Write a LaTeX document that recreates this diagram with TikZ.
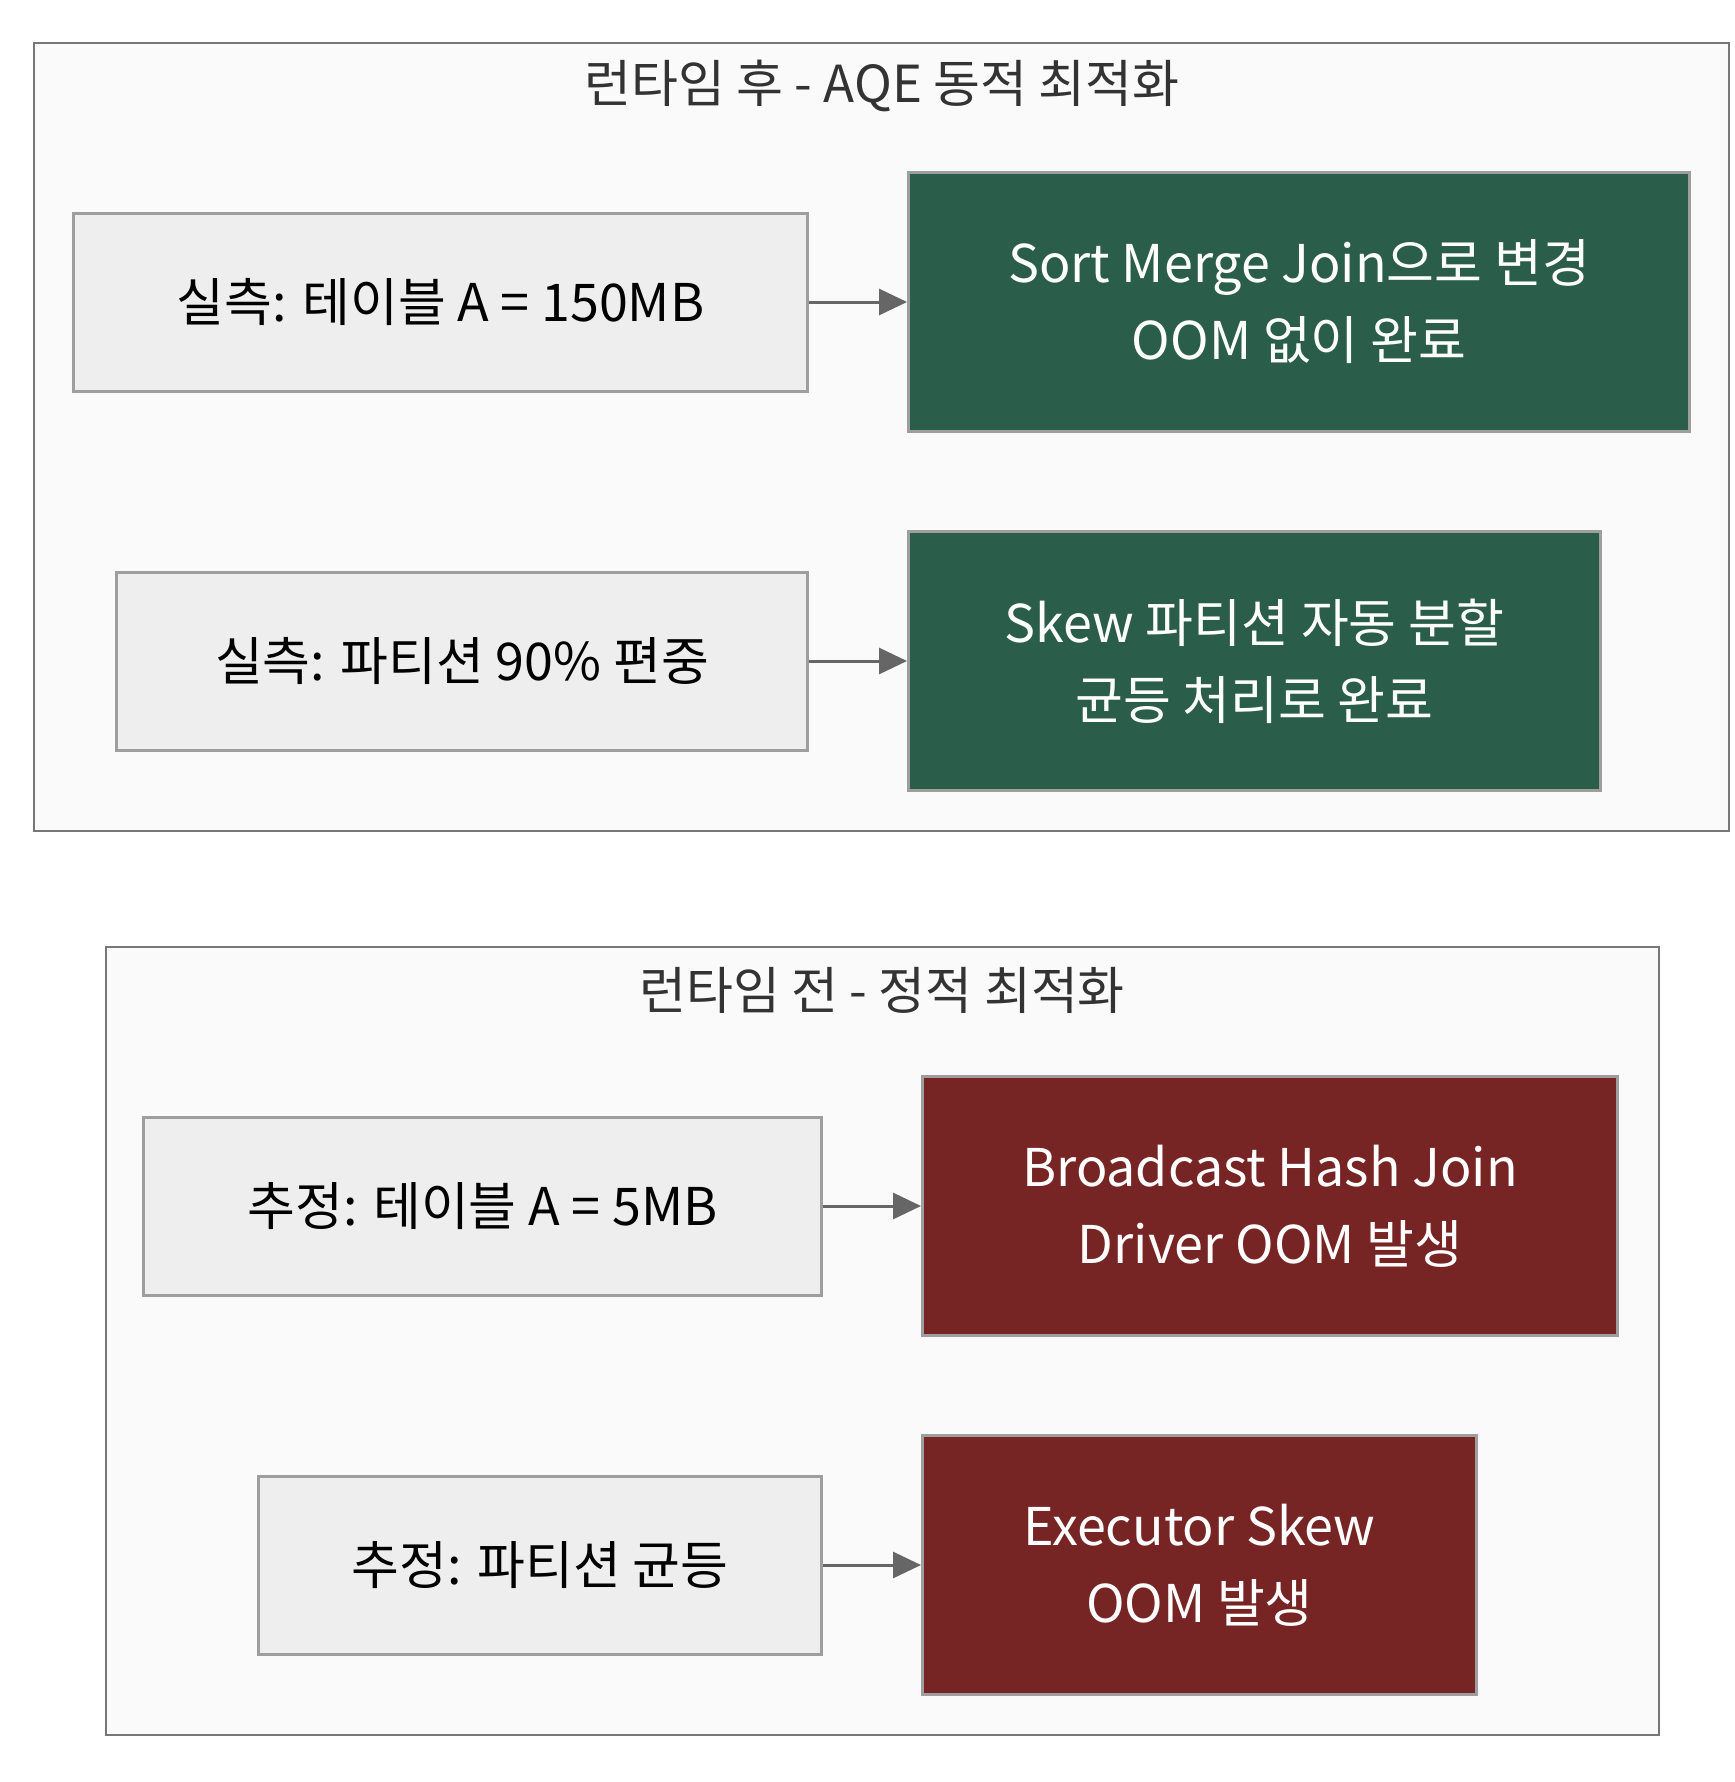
\documentclass[tikz,border=0pt]{standalone}
\usepackage{fontspec}
\setmainfont{Noto Sans CJK KR}
\usetikzlibrary{positioning, arrows.meta}
\definecolor{framegray}{HTML}{777777}
\definecolor{framefill}{HTML}{FAFAFA}
\definecolor{boxline}{HTML}{9E9E9E}
\definecolor{boxfill}{HTML}{EEEEEE}
\definecolor{okgreen}{HTML}{2A5E4A}
\definecolor{failred}{HTML}{772524}
\definecolor{arrgray}{HTML}{666666}
\definecolor{titlegray}{HTML}{333333}
\newcommand{\boxfont}{\fontsize{26}{38.5}\selectfont}
\newcommand{\titlefont}{\fontsize{25.5}{30}\selectfont}

\begin{document}
\begin{tikzpicture}[x=0.5pt, y=-0.5pt,
    frame/.style={draw=framegray, line width=1.25pt, fill=framefill},
    title/.style={font=\titlefont, text=titlegray},
    guess/.style={draw=boxline, line width=1.5pt, fill=boxfill, font=\boxfont,
      minimum height=89pt, inner sep=0pt, anchor=east},
    result/.style={draw=boxline, line width=1.5pt, font=\boxfont, text=white,
      minimum height=129.5pt, inner sep=0pt, align=center},
    ok/.style={result, fill=okgreen},
    fail/.style={result, fill=failred},
    arr/.style={-{Triangle[length=14pt, width=13pt]}, draw=arrgray, fill=arrgray, line width=1.5pt}]
  \useasboundingbox[fill=white] (0,0) rectangle (1734,1782);

  % after runtime (AQE)
  \draw[frame] (34,43) rectangle (1729,831);
  \node[title] (aqetitle) at (882,86) {런타임 후 - AQE 동적 최적화};
  \node[guess, minimum width=367pt] (realsize) at (809,302) {실측: 테이블 A = 150MB};
  \node[ok, minimum width=390.5pt, right=49pt of realsize] (smj) {Sort Merge Join으로 변경\\OOM 없이 완료};
  \node[guess, minimum width=345.5pt] (realskew) at (809,661) {실측: 파티션 90\% 편중};
  \node[ok, minimum width=346pt, right=49pt of realskew] (split) {Skew 파티션 자동 분할\\균등 처리로 완료};

  % before runtime (static)
  \draw[frame] (106,947) rectangle (1659,1735);
  \node[title] (statictitle) at (882,990) {런타임 전 - 정적 최적화};
  \node[guess, minimum width=339pt] (estsize) at (823,1206) {추정: 테이블 A = 5MB};
  \node[fail, minimum width=347.5pt, right=49pt of estsize] (bhj) {Broadcast Hash Join\\Driver OOM 발생};
  \node[guess, minimum width=281.5pt] (estskew) at (823,1565) {추정: 파티션 균등};
  \node[fail, minimum width=277pt, right=49pt of estskew] (execoom) {Executor Skew\\OOM 발생};

  \path[arr]
    (realsize) edge (smj)
    (realskew) edge (split)
     (estsize) edge (bhj)
     (estskew) edge (execoom);
\end{tikzpicture}
\end{document}
